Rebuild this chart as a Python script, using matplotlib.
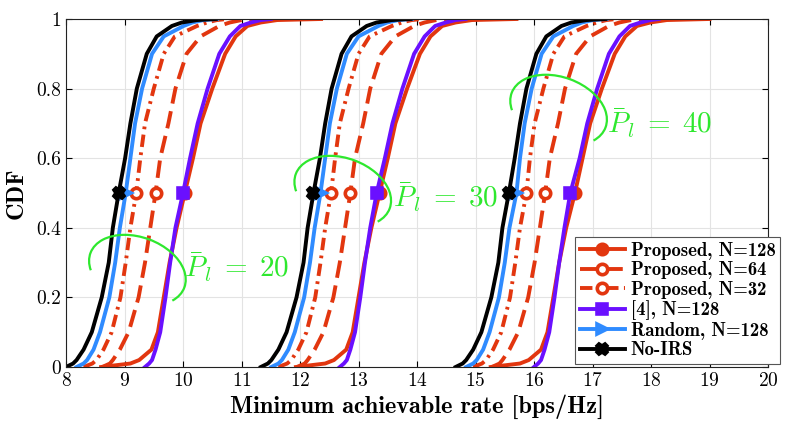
import numpy as np
import matplotlib
matplotlib.use("Agg")
import matplotlib.pyplot as plt
import matplotlib.transforms as mtransforms
from matplotlib.patches import Arc

plt.rcParams["font.family"] = "cmr10"
plt.rcParams["mathtext.fontset"] = "cm"
plt.rcParams["axes.unicode_minus"] = False
plt.rcParams["axes.formatter.use_mathtext"] = True

# CDF levels shared by every curve
levels = [0, 0.01, 0.02, 0.05, 0.1, 0.2, 0.3, 0.4, 0.5, 0.6, 0.7, 0.8, 0.9, 0.95, 0.98, 0.99, 0.997, 1.0]

# rate values [bps/Hz] at those levels, one list per P_l group (20, 30, 40)
prop128 = [
    [8.60, 9.10, 9.25, 9.46, 9.57, 9.67, 9.77, 9.89, 10.03, 10.17, 10.30, 10.50, 10.72, 10.90, 11.10, 11.33, 11.61, 12.36],
    [11.93, 12.43, 12.58, 12.79, 12.90, 13.00, 13.10, 13.22, 13.36, 13.50, 13.63, 13.83, 14.05, 14.23, 14.43, 14.66, 14.94, 15.70],
    [15.26, 15.76, 15.91, 16.12, 16.23, 16.33, 16.43, 16.55, 16.70, 16.83, 16.96, 17.16, 17.38, 17.56, 17.76, 17.99, 18.27, 19.00],
]
prop64 = [
    [8.62, 8.75, 8.80, 8.92, 9.07, 9.24, 9.35, 9.44, 9.53, 9.61, 9.75, 9.87, 10.06, 10.30, 10.62, 10.80, 11.00, 11.30],
    [11.95, 12.08, 12.13, 12.25, 12.40, 12.57, 12.68, 12.77, 12.86, 12.94, 13.08, 13.20, 13.39, 13.63, 13.95, 14.13, 14.33, 14.63],
    [15.28, 15.41, 15.46, 15.58, 15.73, 15.90, 16.01, 16.10, 16.19, 16.27, 16.41, 16.53, 16.72, 16.96, 17.28, 17.46, 17.66, 17.96],
]
prop32 = [
    [8.30, 8.45, 8.52, 8.64, 8.78, 8.93, 9.02, 9.10, 9.20, 9.27, 9.35, 9.50, 9.67, 9.86, 10.24, 10.41, 10.58, 10.75],
    [11.63, 11.78, 11.85, 11.97, 12.11, 12.26, 12.35, 12.43, 12.53, 12.60, 12.68, 12.83, 13.00, 13.19, 13.57, 13.74, 13.91, 14.08],
    [14.96, 15.11, 15.18, 15.30, 15.44, 15.59, 15.68, 15.76, 15.87, 15.93, 16.01, 16.16, 16.33, 16.52, 16.90, 17.07, 17.24, 17.41],
]
ref4 = [
    [9.35, 9.42, 9.47, 9.53, 9.61, 9.70, 9.78, 9.87, 10.00, 10.12, 10.25, 10.42, 10.62, 10.80, 10.98, 11.16, 11.33, 11.50],
    [12.68, 12.75, 12.80, 12.86, 12.94, 13.03, 13.11, 13.20, 13.31, 13.45, 13.58, 13.75, 13.95, 14.13, 14.31, 14.49, 14.66, 14.83],
    [16.00, 16.07, 16.12, 16.18, 16.26, 16.35, 16.43, 16.52, 16.62, 16.78, 16.91, 17.08, 17.28, 17.46, 17.64, 17.82, 17.99, 18.13],
]
random128 = [
    [8.18, 8.30, 8.36, 8.47, 8.58, 8.74, 8.84, 8.92, 9.02, 9.10, 9.18, 9.30, 9.47, 9.67, 10.01, 10.16, 10.35, 10.58],
    [11.51, 11.63, 11.69, 11.80, 11.91, 12.07, 12.17, 12.25, 12.35, 12.43, 12.51, 12.63, 12.80, 13.00, 13.34, 13.49, 13.68, 13.91],
    [14.84, 14.96, 15.02, 15.13, 15.24, 15.40, 15.50, 15.58, 15.70, 15.76, 15.84, 15.96, 16.13, 16.33, 16.67, 16.82, 17.01, 17.24],
]
no_irs = [
    [8.00, 8.12, 8.18, 8.30, 8.44, 8.61, 8.73, 8.80, 8.90, 9.01, 9.10, 9.21, 9.38, 9.55, 9.81, 9.98, 10.24, 10.56],
    [11.33, 11.45, 11.51, 11.63, 11.77, 11.94, 12.06, 12.13, 12.23, 12.34, 12.43, 12.54, 12.71, 12.88, 13.14, 13.31, 13.57, 13.89],
    [14.66, 14.78, 14.84, 14.96, 15.10, 15.27, 15.39, 15.46, 15.57, 15.67, 15.76, 15.87, 16.04, 16.21, 16.47, 16.64, 16.90, 17.22],
]

pl_labels = ["20", "30", "40"]
# centre of each green ellipse and the position of its label
arc_centers = [(9.22, 0.278), (12.73, 0.505), (16.42, 0.738)]
label_pos = [(10.02, 0.288), (13.59, 0.489), (17.25, 0.70)]

red = "#e2360f"
green = "#2ee82e"
series = [
    ("Proposed, N=128", prop128, red, "-", "o", red),
    ("Proposed, N=64", prop64, red, (0, (4.5, 2.0)), "o", "white"),
    ("Proposed, N=32", prop32, red, (0, (3.2, 1.4, 0.7, 1.4)), "o", "white"),
    ("[4], N=128", ref4, "#6a10ff", "-", "s", "#6a10ff"),
    ("Random, N=128", random128, "#2f8bff", "-", ">", "#2f8bff"),
    ("No-IRS", no_irs, "black", "-", "X", "black"),
]

fig = plt.figure(figsize=(7.89, 4.26), dpi=100)
ax = fig.add_axes([0.0837, 0.1385, 0.8897, 0.8169])

mid = levels.index(0.5)
for name, groups, col, ls, mk, face in series:
    for g, xs in enumerate(groups):
        ax.plot(xs, levels, color=col, ls=ls, lw=2.8, marker=mk, markevery=[mid],
                markersize=7.5, markerfacecolor=face, markeredgecolor=col, markeredgewidth=2.6,
                label=name if g == 0 else None)

for (cx, cy), (tx, ty), pl in zip(arc_centers, label_pos, pl_labels):
    tr = fig.dpi_scale_trans + mtransforms.ScaledTranslation(cx, cy, ax.transData)
    ax.add_patch(Arc((0, 0), 1.0, 0.66, angle=-20, theta1=-21, theta2=200,
                     transform=tr, color=green, lw=1.6, zorder=5))
    ax.text(tx, ty, r"$\bar{P}_l\;=\;" + pl + "$", color=green, fontsize=21,
            ha="left", va="center", zorder=5)

ax.set_xlim(8, 20)
ax.set_ylim(0, 1)
ax.set_xticks(range(8, 21))
ax.set_yticks([0, 0.2, 0.4, 0.6, 0.8, 1])
ax.set_yticklabels(["0", "0.2", "0.4", "0.6", "0.8", "1"])
ax.tick_params(labelsize=14, direction="in", top=True, right=True, length=4, width=0.8)
ax.grid(True, color="#e3e3e3", lw=0.8)
ax.set_axisbelow(True)
for sp in ax.spines.values():
    sp.set_linewidth(0.8)
    sp.set_color("#222222")

ax.set_xlabel("Minimum achievable rate [bps/Hz]", fontfamily="cmb10", fontsize=17.5, labelpad=3)
ax.set_ylabel("CDF", fontfamily="cmb10", fontsize=17.5, labelpad=6)

leg = ax.legend(loc="lower right", bbox_to_anchor=(1.017, 0.009), prop={"family": "cmb10", "size": 13.5},
                fancybox=False, framealpha=1, edgecolor="#555555", numpoints=1,
                handlelength=2.4, handletextpad=0.3, labelspacing=0.08, borderpad=0.25,
                borderaxespad=0)
leg.get_frame().set_linewidth(0.8)
leg.set_zorder(10)

fig.savefig("out.png", dpi=100)
